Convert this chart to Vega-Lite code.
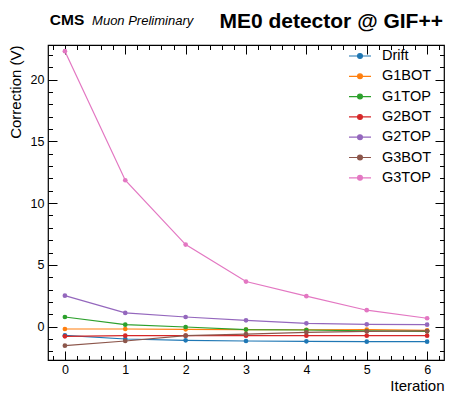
{
  "$schema": "https://vega.github.io/schema/vega-lite/v6.json",
  "width": 396,
  "height": 315,
  "autosize": {"type": "none"},
  "padding": {"left": 48, "top": 45, "right": 16, "bottom": 38},
  "background": "white",
  "config": {
    "font": "Liberation Sans",
    "view": {"stroke": "black", "strokeWidth": 1.2},
    "axis": {"grid": false, "domain": false, "labelColor": "black", "titleColor": "black", "labelFont": "Liberation Sans", "titleFont": "Liberation Sans", "labelFontSize": 12.5, "titleFontSize": 15, "titleFontWeight": "normal"}
  },
  "datasets": {
    "corr": [
      {"iter": 0, "series": "Drift", "value": -0.7},
      {"iter": 1, "series": "Drift", "value": -1.0},
      {"iter": 2, "series": "Drift", "value": -1.11},
      {"iter": 3, "series": "Drift", "value": -1.16},
      {"iter": 4, "series": "Drift", "value": -1.19},
      {"iter": 5, "series": "Drift", "value": -1.22},
      {"iter": 6, "series": "Drift", "value": -1.22},
      {"iter": 0, "series": "G1BOT", "value": -0.19},
      {"iter": 1, "series": "G1BOT", "value": -0.19},
      {"iter": 2, "series": "G1BOT", "value": -0.22},
      {"iter": 3, "series": "G1BOT", "value": -0.24},
      {"iter": 4, "series": "G1BOT", "value": -0.25},
      {"iter": 5, "series": "G1BOT", "value": -0.24},
      {"iter": 6, "series": "G1BOT", "value": -0.3},
      {"iter": 0, "series": "G1TOP", "value": 0.78},
      {"iter": 1, "series": "G1TOP", "value": 0.16},
      {"iter": 2, "series": "G1TOP", "value": -0.03},
      {"iter": 3, "series": "G1TOP", "value": -0.24},
      {"iter": 4, "series": "G1TOP", "value": -0.27},
      {"iter": 5, "series": "G1TOP", "value": -0.35},
      {"iter": 6, "series": "G1TOP", "value": -0.38},
      {"iter": 0, "series": "G2BOT", "value": -0.78},
      {"iter": 1, "series": "G2BOT", "value": -0.73},
      {"iter": 2, "series": "G2BOT", "value": -0.73},
      {"iter": 3, "series": "G2BOT", "value": -0.73},
      {"iter": 4, "series": "G2BOT", "value": -0.73},
      {"iter": 5, "series": "G2BOT", "value": -0.73},
      {"iter": 6, "series": "G2BOT", "value": -0.73},
      {"iter": 0, "series": "G2TOP", "value": 2.51},
      {"iter": 1, "series": "G2TOP", "value": 1.11},
      {"iter": 2, "series": "G2TOP", "value": 0.78},
      {"iter": 3, "series": "G2TOP", "value": 0.51},
      {"iter": 4, "series": "G2TOP", "value": 0.27},
      {"iter": 5, "series": "G2TOP", "value": 0.19},
      {"iter": 6, "series": "G2TOP", "value": 0.16},
      {"iter": 0, "series": "G3BOT", "value": -1.54},
      {"iter": 1, "series": "G3BOT", "value": -1.16},
      {"iter": 2, "series": "G3BOT", "value": -0.73},
      {"iter": 3, "series": "G3BOT", "value": -0.6},
      {"iter": 4, "series": "G3BOT", "value": -0.46},
      {"iter": 5, "series": "G3BOT", "value": -0.38},
      {"iter": 6, "series": "G3BOT", "value": -0.35},
      {"iter": 0, "series": "G3TOP", "value": 22.3},
      {"iter": 1, "series": "G3TOP", "value": 11.85},
      {"iter": 2, "series": "G3TOP", "value": 6.64},
      {"iter": 3, "series": "G3TOP", "value": 3.65},
      {"iter": 4, "series": "G3TOP", "value": 2.47},
      {"iter": 5, "series": "G3TOP", "value": 1.33},
      {"iter": 6, "series": "G3TOP", "value": 0.68}
    ],
    "cms": [{"x": -0.25, "y": 24.4, "text": "CMS"}],
    "prelim": [{"x": 0.45, "y": 24.4, "text": "Muon Preliminary"}],
    "head": [{"x": 6.263, "y": 24.2, "text": "ME0 detector @ GIF++"}]
  },
  "layer": [
    {
      "data": {"name": "corr"},
      "mark": {"type": "line", "strokeWidth": 1.2},
      "encoding": {
        "x": {"field": "iter", "type": "quantitative",
          "scale": {"domain": [-0.28, 6.28], "nice": false, "zero": false},
          "axis": {"orient": "bottom", "offset": -9, "title": "Iteration", "titleAnchor": "end", "titleAlign": "right", "titlePadding": 3,
            "values": [0,1,2,3,4,5,6], "format": "d", "ticks": true, "tickColor": "black", "tickWidth": 1,
            "tickSize": 9, "labelPadding": 3, "labelFlush": false, "labelOverlap": false}},
        "y": {"field": "value", "type": "quantitative",
          "scale": {"domain": [-2.7, 22.8], "nice": false, "zero": false},
          "axis": {"orient": "left", "offset": -9, "title": "Correction (V)", "titleAnchor": "end", "titlePadding": 7,
            "values": [0,5,10,15,20], "format": "d", "ticks": true, "tickColor": "black", "tickWidth": 1,
            "tickSize": 9, "labelPadding": 4, "labelOverlap": false}},
        "color": {"field": "series", "type": "nominal",
          "scale": {"domain": ["Drift","G1BOT","G1TOP","G2BOT","G2TOP","G3BOT","G3TOP"],
                    "range": ["#1f77b4","#ff7f0e","#2ca02c","#d62728","#9467bd","#8c564b","#e377c2"]},
          "legend": {"title": null, "orient": "none", "legendX": 300, "legendY": -1, "labelFontSize": 14.5, "labelFont": "Liberation Sans", "labelColor": "black", "rowPadding": 1.3,
            "symbolType": "M-1,0L1,0M-0.22,0A0.22,0.22,0,1,1,0.22,0A0.22,0.22,0,1,1,-0.22,0Z", "symbolSize": 484, "symbolStrokeWidth": 1.2, "labelOffset": 10}}
      }
    },
    {
      "data": {"name": "corr"},
      "mark": {"type": "point", "filled": true, "size": 22, "opacity": 1},
      "encoding": {
        "x": {"field": "iter", "type": "quantitative",
          "axis": {"orient": "bottom", "offset": -4.5, "title": null, "labels": false, "ticks": true, "tickColor": "black", "tickWidth": 1,
            "values": [-0.2,0.2,0.4,0.6,0.8,1.2,1.4,1.6,1.8,2.2,2.4,2.6,2.8,3.2,3.4,3.6,3.8,4.2,4.4,4.6,4.8,5.2,5.4,5.6,5.8,6.2],
            "tickSize": 4.5}},
        "y": {"field": "value", "type": "quantitative",
          "axis": {"orient": "left", "offset": -4.5, "title": null, "labels": false, "ticks": true, "tickColor": "black", "tickWidth": 1,
            "values": [-2,-1,1,2,3,4,6,7,8,9,11,12,13,14,16,17,18,19,21,22],
            "tickSize": 4.5}},
        "color": {"field": "series", "type": "nominal", "legend": null}
      }
    },
    {
      "data": {"name": "cms"},
      "mark": {"type": "text", "align": "left", "baseline": "alphabetic", "clip": false, "color": "black", "fontSize": 15.5, "fontWeight": "bold"},
      "encoding": {
        "x": {"field": "x", "type": "quantitative",
          "axis": {"orient": "top", "offset": -9, "title": null, "labels": false, "ticks": true, "tickColor": "black", "tickWidth": 1,
            "values": [0,1,2,3,4,5,6], "tickSize": 9}},
        "y": {"field": "y", "type": "quantitative",
          "axis": {"orient": "right", "offset": -9, "title": null, "labels": false, "ticks": true, "tickColor": "black", "tickWidth": 1,
            "values": [0,5,10,15,20], "tickSize": 9}},
        "text": {"field": "text"}
      }
    },
    {
      "data": {"name": "prelim"},
      "mark": {"type": "text", "align": "left", "baseline": "alphabetic", "clip": false, "color": "black", "fontSize": 13, "fontStyle": "italic"},
      "encoding": {
        "x": {"field": "x", "type": "quantitative",
          "axis": {"orient": "top", "offset": -4.5, "title": null, "labels": false, "ticks": true, "tickColor": "black", "tickWidth": 1,
            "values": [-0.2,0.2,0.4,0.6,0.8,1.2,1.4,1.6,1.8,2.2,2.4,2.6,2.8,3.2,3.4,3.6,3.8,4.2,4.4,4.6,4.8,5.2,5.4,5.6,5.8,6.2],
            "tickSize": 4.5}},
        "y": {"field": "y", "type": "quantitative",
          "axis": {"orient": "right", "offset": -4.5, "title": null, "labels": false, "ticks": true, "tickColor": "black", "tickWidth": 1,
            "values": [-2,-1,1,2,3,4,6,7,8,9,11,12,13,14,16,17,18,19,21,22],
            "tickSize": 4.5}},
        "text": {"field": "text"}
      }
    },
    {
      "data": {"name": "head"},
      "mark": {"type": "text", "align": "right", "baseline": "alphabetic", "clip": false, "color": "black", "fontSize": 21, "fontWeight": "bold"},
      "encoding": {
        "x": {"field": "x", "type": "quantitative", "axis": null},
        "y": {"field": "y", "type": "quantitative", "axis": null},
        "text": {"field": "text"}
      }
    }
  ],
  "resolve": {"axis": {"x": "independent", "y": "independent"}}
}
